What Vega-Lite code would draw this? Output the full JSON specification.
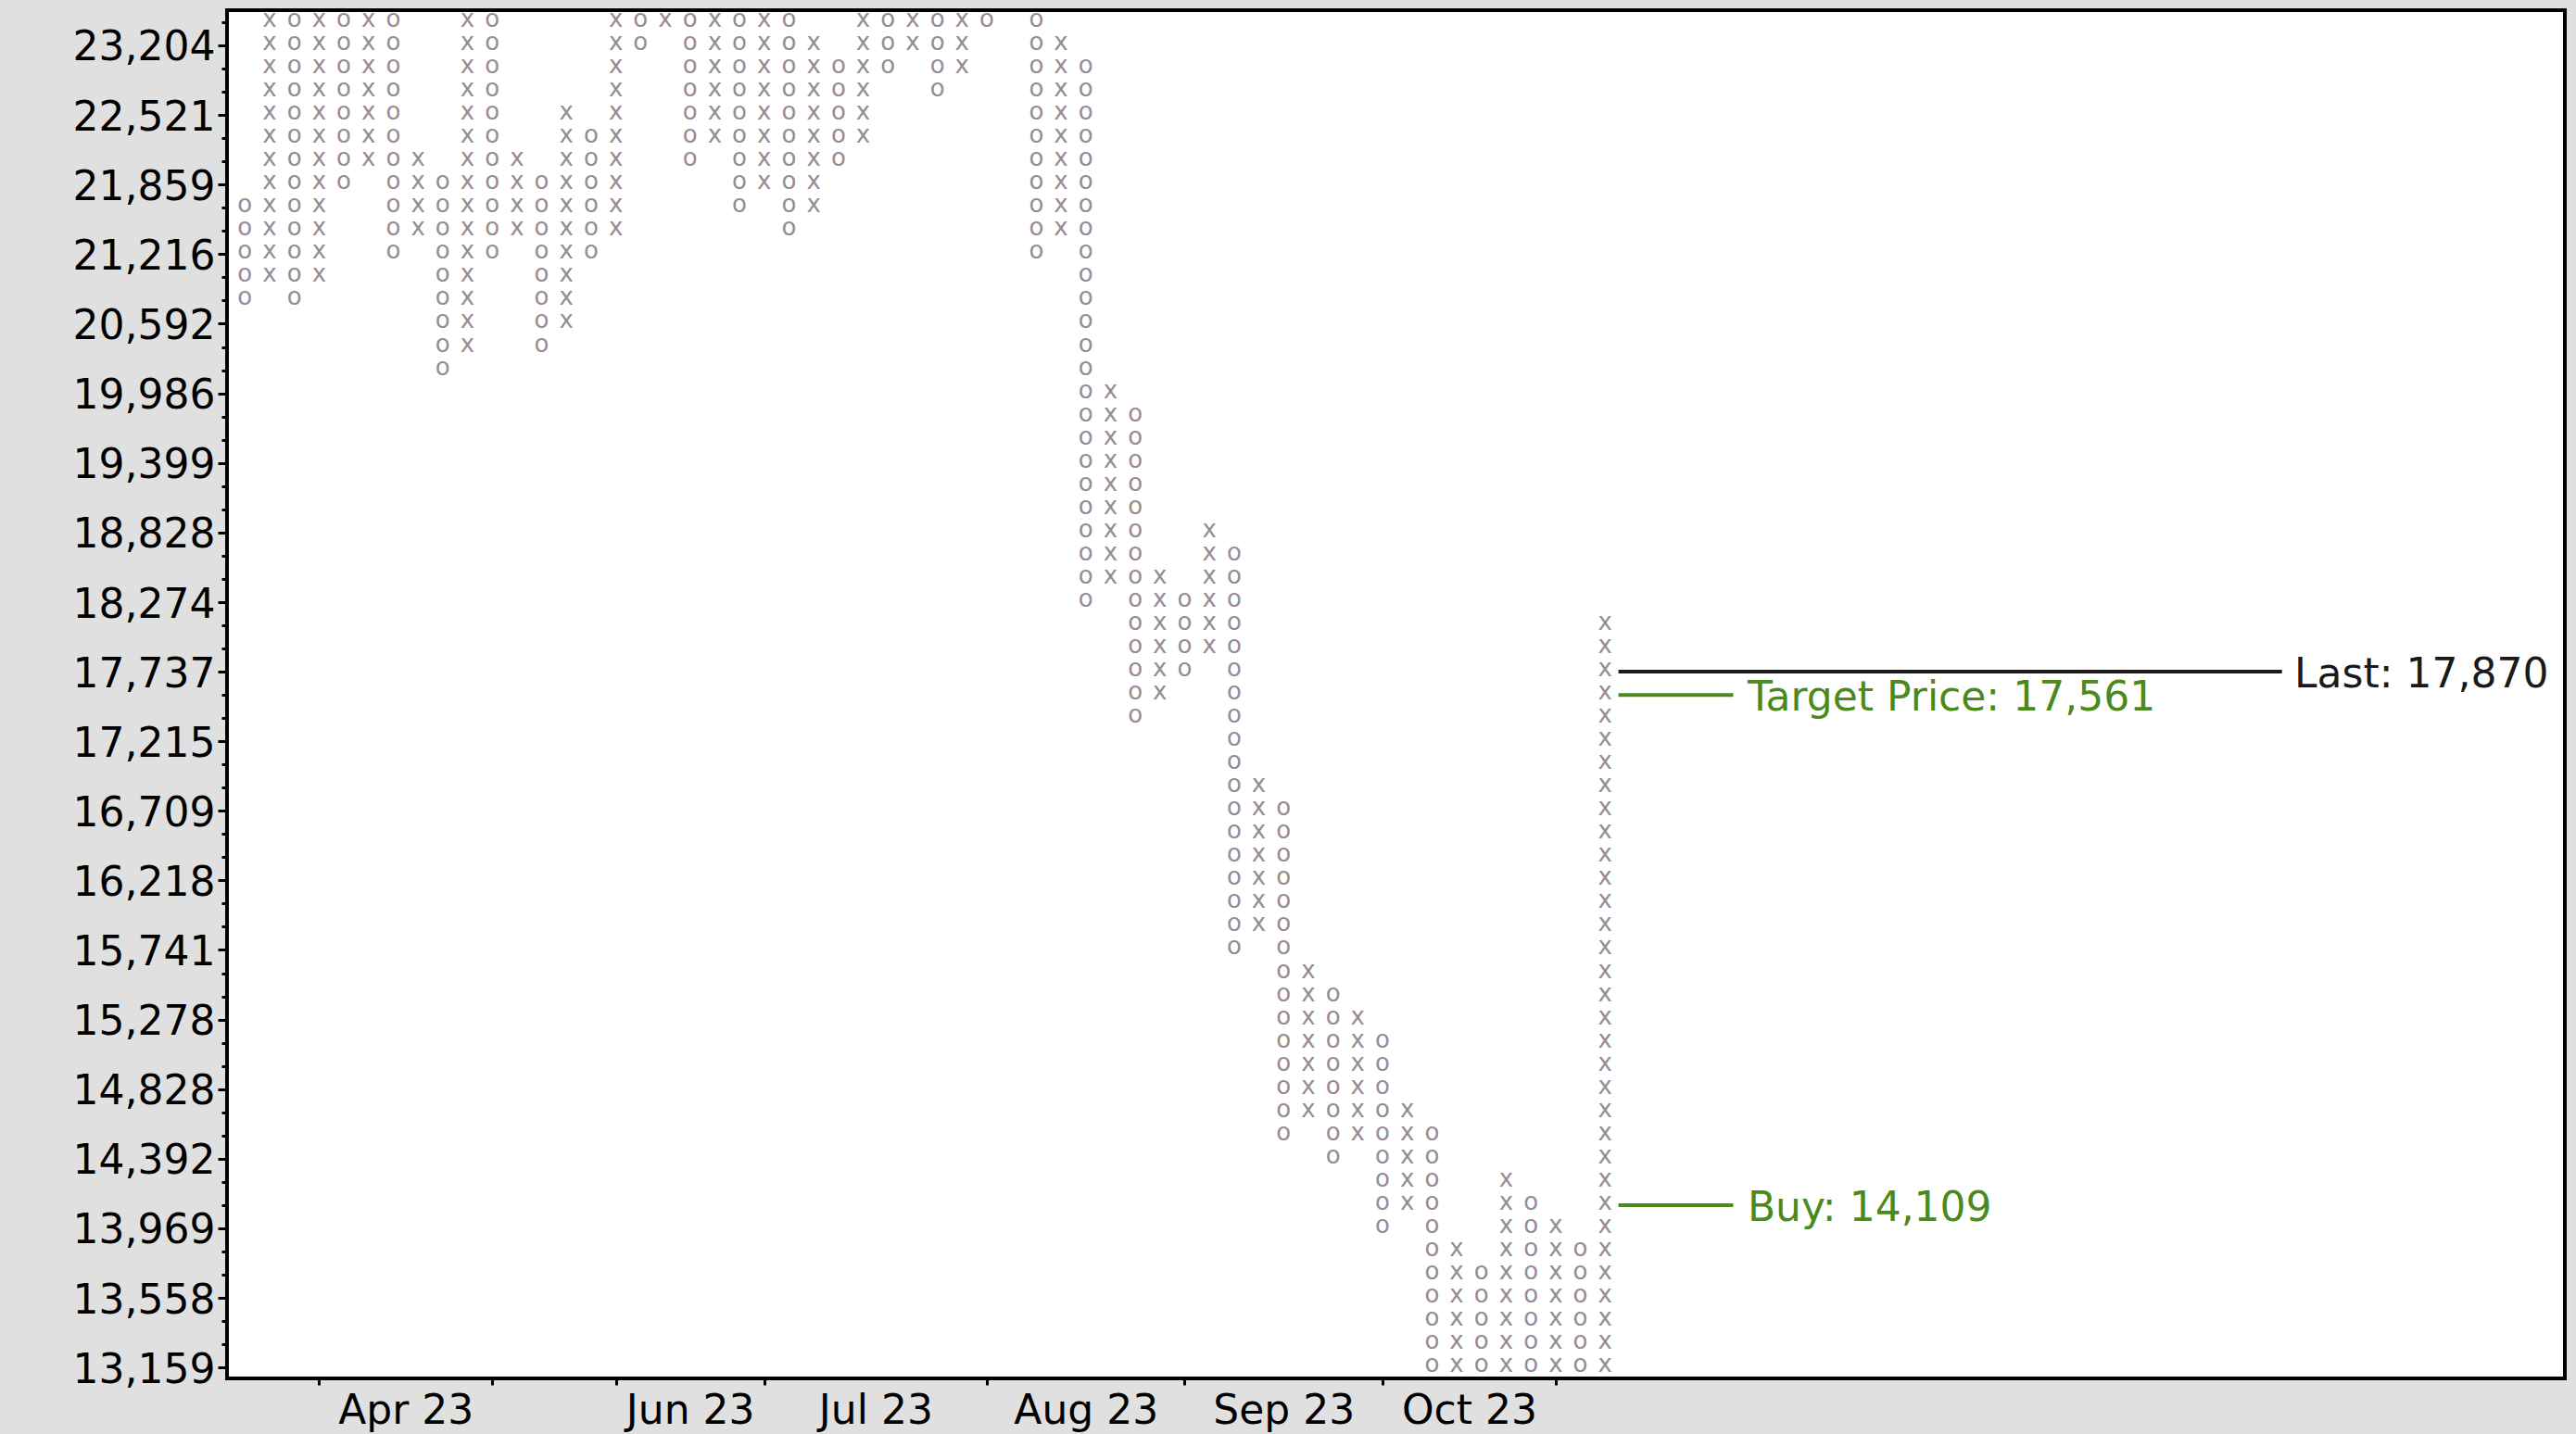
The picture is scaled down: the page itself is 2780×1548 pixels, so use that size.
{
  "$schema": "https://vega.github.io/schema/vega-lite/v6.json",
  "autosize": {"type": "none"},
  "padding": {"left": 245, "top": 11, "right": 12, "bottom": 60},
  "width": 2523,
  "height": 1477,
  "background": "#e0e0e0",
  "config": {
    "view": {"stroke": "#000000", "strokeWidth": 4, "fill": "#ffffff"},
    "font": "DejaVu Sans"
  },
  "datasets": {
    "columns": [
      {"c": 0, "t": "o", "p": [20798, 21006, 21216, 21428, 21642]},
      {"c": 1, "t": "x", "p": [21006, 21216, 21428, 21642, 21859, 22078, 22298, 22521, 22746, 22974, 23204, 23436]},
      {"c": 2, "t": "o", "p": [20798, 21006, 21216, 21428, 21642, 21859, 22078, 22298, 22521, 22746, 22974, 23204, 23436]},
      {"c": 3, "t": "x", "p": [21006, 21216, 21428, 21642, 21859, 22078, 22298, 22521, 22746, 22974, 23204, 23436]},
      {"c": 4, "t": "o", "p": [21859, 22078, 22298, 22521, 22746, 22974, 23204, 23436]},
      {"c": 5, "t": "x", "p": [22078, 22298, 22521, 22746, 22974, 23204, 23436]},
      {"c": 6, "t": "o", "p": [21216, 21428, 21642, 21859, 22078, 22298, 22521, 22746, 22974, 23204, 23436]},
      {"c": 7, "t": "x", "p": [21428, 21642, 21859, 22078]},
      {"c": 8, "t": "o", "p": [20186, 20388, 20592, 20798, 21006, 21216, 21428, 21642, 21859]},
      {"c": 9, "t": "x", "p": [20388, 20592, 20798, 21006, 21216, 21428, 21642, 21859, 22078, 22298, 22521, 22746, 22974, 23204, 23436]},
      {"c": 10, "t": "o", "p": [21216, 21428, 21642, 21859, 22078, 22298, 22521, 22746, 22974, 23204, 23436]},
      {"c": 11, "t": "x", "p": [21428, 21642, 21859, 22078]},
      {"c": 12, "t": "o", "p": [20388, 20592, 20798, 21006, 21216, 21428, 21642, 21859]},
      {"c": 13, "t": "x", "p": [20592, 20798, 21006, 21216, 21428, 21642, 21859, 22078, 22298, 22521]},
      {"c": 14, "t": "o", "p": [21216, 21428, 21642, 21859, 22078, 22298]},
      {"c": 15, "t": "x", "p": [21428, 21642, 21859, 22078, 22298, 22521, 22746, 22974, 23204, 23436]},
      {"c": 16, "t": "o", "p": [23204, 23436]},
      {"c": 17, "t": "x", "p": [23436]},
      {"c": 18, "t": "o", "p": [22078, 22298, 22521, 22746, 22974, 23204, 23436]},
      {"c": 19, "t": "x", "p": [22298, 22521, 22746, 22974, 23204, 23436]},
      {"c": 20, "t": "o", "p": [21642, 21859, 22078, 22298, 22521, 22746, 22974, 23204, 23436]},
      {"c": 21, "t": "x", "p": [21859, 22078, 22298, 22521, 22746, 22974, 23204, 23436]},
      {"c": 22, "t": "o", "p": [21428, 21642, 21859, 22078, 22298, 22521, 22746, 22974, 23204, 23436]},
      {"c": 23, "t": "x", "p": [21642, 21859, 22078, 22298, 22521, 22746, 22974, 23204]},
      {"c": 24, "t": "o", "p": [22078, 22298, 22521, 22746, 22974]},
      {"c": 25, "t": "x", "p": [22298, 22521, 22746, 22974, 23204, 23436]},
      {"c": 26, "t": "o", "p": [22974, 23204, 23436]},
      {"c": 27, "t": "x", "p": [23204, 23436]},
      {"c": 28, "t": "o", "p": [22746, 22974, 23204, 23436]},
      {"c": 29, "t": "x", "p": [22974, 23204, 23436]},
      {"c": 30, "t": "o", "p": [23436]},
      {"c": 32, "t": "o", "p": [21216, 21428, 21642, 21859, 22078, 22298, 22521, 22746, 22974, 23204, 23436]},
      {"c": 33, "t": "x", "p": [21428, 21642, 21859, 22078, 22298, 22521, 22746, 22974, 23204]},
      {"c": 34, "t": "o", "p": [18274, 18457, 18641, 18828, 19016, 19206, 19399, 19593, 19789, 19986, 20186, 20388, 20592, 20798, 21006, 21216, 21428, 21642, 21859, 22078, 22298, 22521, 22746, 22974]},
      {"c": 35, "t": "x", "p": [18457, 18641, 18828, 19016, 19206, 19399, 19593, 19789, 19986]},
      {"c": 36, "t": "o", "p": [17387, 17561, 17737, 17914, 18093, 18274, 18457, 18641, 18828, 19016, 19206, 19399, 19593, 19789]},
      {"c": 37, "t": "x", "p": [17561, 17737, 17914, 18093, 18274, 18457]},
      {"c": 38, "t": "o", "p": [17737, 17914, 18093, 18274]},
      {"c": 39, "t": "x", "p": [17914, 18093, 18274, 18457, 18641, 18828]},
      {"c": 40, "t": "o", "p": [15741, 15898, 16057, 16218, 16380, 16544, 16709, 16876, 17045, 17215, 17387, 17561, 17737, 17914, 18093, 18274, 18457, 18641]},
      {"c": 41, "t": "x", "p": [15898, 16057, 16218, 16380, 16544, 16709, 16876]},
      {"c": 42, "t": "o", "p": [14536, 14681, 14828, 14976, 15126, 15278, 15431, 15585, 15741, 15898, 16057, 16218, 16380, 16544, 16709]},
      {"c": 43, "t": "x", "p": [14681, 14828, 14976, 15126, 15278, 15431, 15585]},
      {"c": 44, "t": "o", "p": [14392, 14536, 14681, 14828, 14976, 15126, 15278, 15431]},
      {"c": 45, "t": "x", "p": [14536, 14681, 14828, 14976, 15126, 15278]},
      {"c": 46, "t": "o", "p": [13969, 14109, 14250, 14392, 14536, 14681, 14828, 14976, 15126]},
      {"c": 47, "t": "x", "p": [14109, 14250, 14392, 14536, 14681]},
      {"c": 48, "t": "o", "p": [13159, 13291, 13424, 13558, 13694, 13830, 13969, 14109, 14250, 14392, 14536]},
      {"c": 49, "t": "x", "p": [13159, 13291, 13424, 13558, 13694, 13830]},
      {"c": 50, "t": "o", "p": [13159, 13291, 13424, 13558, 13694]},
      {"c": 51, "t": "x", "p": [13159, 13291, 13424, 13558, 13694, 13830, 13969, 14109, 14250]},
      {"c": 52, "t": "o", "p": [13159, 13291, 13424, 13558, 13694, 13830, 13969, 14109]},
      {"c": 53, "t": "x", "p": [13159, 13291, 13424, 13558, 13694, 13830, 13969]},
      {"c": 54, "t": "o", "p": [13159, 13291, 13424, 13558, 13694, 13830]},
      {"c": 55, "t": "x", "p": [13159, 13291, 13424, 13558, 13694, 13830, 13969, 14109, 14250, 14392, 14536, 14681, 14828, 14976, 15126, 15278, 15431, 15585, 15741, 15898, 16057, 16218, 16380, 16544, 16709, 16876, 17045, 17215, 17387, 17561, 17737, 17914, 18093]}
    ],
    "levels": [
      {"name": "Last", "p": 17737, "label": "Last: 17,870"},
      {"name": "Target", "p": 17561, "label": "Target Price: 17,561"},
      {"name": "Buy", "p": 14109, "label": "Buy: 14,109"}
    ]
  },
  "layer": [
    {
      "data": {"name": "columns"},
      "transform": [{"flatten": ["p"]}],
      "mark": {"type": "text", "font": "DejaVu Sans", "fontSize": 26, "color": "#978c92", "align": "center", "baseline": "middle", "dy": -3, "clip": true},
      "encoding": {
        "x": {
          "field": "c", "type": "quantitative",
          "scale": {"type": "linear", "domain": [-0.723, 93.81], "nice": false, "zero": false},
          "axis": {
            "title": null, "grid": false, "domain": false,
            "values": [3, 6.5, 10, 15, 18, 21, 25.5, 30, 34, 38, 42, 46, 49.5, 53],
            "labelExpr": "datum.value == 6.5 ? 'Apr 23' : datum.value == 18 ? 'Jun 23' : datum.value == 25.5 ? 'Jul 23' : datum.value == 34 ? 'Aug 23' : datum.value == 42 ? 'Sep 23' : datum.value == 49.5 ? 'Oct 23' : ''",
            "tickOpacity": {"condition": {"test": "indexof([3, 10, 15, 21, 30, 38, 46, 53], datum.value) < 0", "value": 0}, "value": 1},
            "tickSize": 7, "tickWidth": 3, "tickColor": "#000000",
            "labelFont": "DejaVu Sans", "labelFontSize": 44, "labelColor": "#000000",
            "labelBaseline": "alphabetic", "labelPadding": 41,
            "labelOverlap": false, "labelFlush": false
          }
        },
        "y": {
          "field": "p", "type": "quantitative",
          "scale": {"type": "log", "domain": [13098, 23557], "nice": false, "zero": false},
          "axis": {
            "title": null, "grid": false, "domain": false,
            "values": [13159, 13291, 13424, 13558, 13694, 13830, 13969, 14109, 14250, 14392, 14536, 14681, 14828, 14976, 15126, 15278, 15431, 15585, 15741, 15898, 16057, 16218, 16380, 16544, 16709, 16876, 17045, 17215, 17387, 17561, 17737, 17914, 18093, 18274, 18457, 18641, 18828, 19016, 19206, 19399, 19593, 19789, 19986, 20186, 20388, 20592, 20798, 21006, 21216, 21428, 21642, 21859, 22078, 22298, 22521, 22746, 22974, 23204, 23436],
            "labelExpr": "indexof([13159, 13558, 13969, 14392, 14828, 15278, 15741, 16218, 16709, 17215, 17737, 18274, 18828, 19399, 19986, 20592, 21216, 21859, 22521, 23204], datum.value) >= 0 ? format(datum.value, ',') : ''",
            "tickSize": {"condition": {"test": "indexof([13159, 13558, 13969, 14392, 14828, 15278, 15741, 16218, 16709, 17215, 17737, 18274, 18828, 19399, 19986, 20592, 21216, 21859, 22521, 23204], datum.value) >= 0", "value": 10}, "value": 6},
            "tickWidth": 3, "tickColor": "#000000",
            "labelFont": "DejaVu Sans", "labelFontSize": 44, "labelColor": "#000000",
            "labelPadding": 3, "labelOffset": 3, "labelOverlap": false, "labelFlush": false
          }
        },
        "text": {"field": "t"}
      }
    },
    {
      "data": {"name": "levels"},
      "transform": [{"filter": "datum.name == 'Last'"}],
      "mark": {"type": "rule", "strokeWidth": 4},
      "encoding": {
        "x": {"datum": 55.54, "type": "quantitative"},
        "x2": {"datum": 82.37},
        "y": {"field": "p", "type": "quantitative"},
        "color": {"field": "name", "type": "nominal", "scale": {"domain": ["Last", "Target", "Buy"], "range": ["#1a1a1a", "#4a8a1c", "#4a8a1c"]}, "legend": null}
      }
    },
    {
      "data": {"name": "levels"},
      "transform": [{"filter": "datum.name != 'Last'"}],
      "mark": {"type": "rule", "strokeWidth": 4},
      "encoding": {
        "x": {"datum": 55.54, "type": "quantitative"},
        "x2": {"datum": 60.18},
        "y": {"field": "p", "type": "quantitative"},
        "color": {"field": "name", "type": "nominal", "legend": null}
      }
    },
    {
      "data": {"name": "levels"},
      "transform": [{"filter": "datum.name == 'Last'"}],
      "mark": {"type": "text", "font": "DejaVu Sans", "fontSize": 44, "align": "left", "baseline": "middle", "dy": 4},
      "encoding": {
        "x": {"datum": 82.87, "type": "quantitative"},
        "y": {"field": "p", "type": "quantitative"},
        "text": {"field": "label"},
        "color": {"field": "name", "type": "nominal", "legend": null}
      }
    },
    {
      "data": {"name": "levels"},
      "transform": [{"filter": "datum.name != 'Last'"}],
      "mark": {"type": "text", "font": "DejaVu Sans", "fontSize": 44, "align": "left", "baseline": "middle", "dy": 4},
      "encoding": {
        "x": {"datum": 60.76, "type": "quantitative"},
        "y": {"field": "p", "type": "quantitative"},
        "text": {"field": "label"},
        "color": {"field": "name", "type": "nominal", "legend": null}
      }
    }
  ]
}
